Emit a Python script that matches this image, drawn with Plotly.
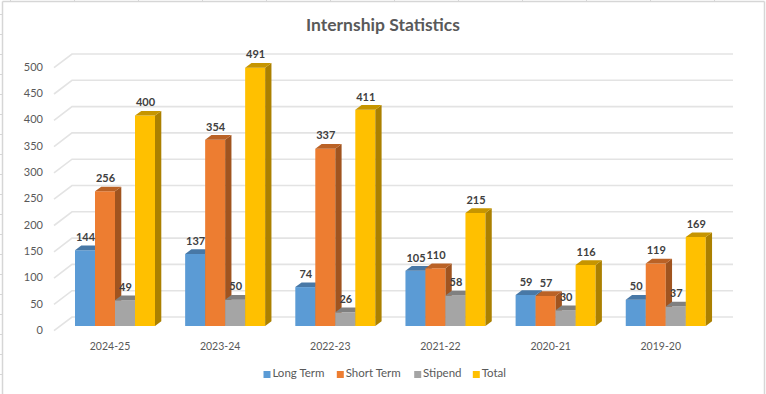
import plotly.graph_objects as go

# ---- data ----
categories = ["2024-25", "2023-24", "2022-23", "2021-22", "2020-21", "2019-20"]
long_term = [144, 137, 74, 105, 59, 50]
short_term = [256, 354, 337, 110, 57, 119]
stipend = [49, 50, 26, 58, 30, 37]
total = [400, 491, 411, 215, 116, 169]
y_ticks = [0, 50, 100, 150, 200, 250, 300, 350, 400, 450, 500]

series_names = ["Long Term", "Short Term", "Stipend", "Total"]
series_values = [long_term, short_term, stipend, total]
front_colors = ["#5B9BD5", "#ED7D31", "#A5A5A5", "#FFC000"]
top_colors = ["#4878A6", "#BA6226", "#808080", "#C69500"]
side_colors = ["#3F6B92", "#A0541F", "#737373", "#AB8000"]

# ---- geometry ----
W, H = 766, 394
ML, MR, MT, MB = 50, 26, 20, 0
AXIS_PX = 332           # px of the category axis baseline
PX_X = 110.15           # px per category
X0_PX = 115             # px of first group's centre
PX_Y = 0.526            # px per value unit
Y0_PX = 326             # px of value 0 at bar front


def ux(px):
    return px / PX_X


def uy(px):
    return px / PX_Y


x_range = [ux(ML - X0_PX), ux(W - MR - X0_PX)]
y_range = [uy(Y0_PX - (H - MB)), uy(Y0_PX - MT)]
bar_w = ux(20)
dx, dy = ux(6.3), uy(4.7)
offsets = [ux(-30), ux(-10), ux(10), ux(30)]

fig = go.Figure()

# gridlines: back wall plus the slanted left-wall segment
gx, gy = [], []
back_l, back_r, front_l = ux(72 - X0_PX), ux(733 - X0_PX), ux(54 - X0_PX)
back_up, front_down = uy(9), uy(4.7)
for t in y_ticks:
    gx += [front_l, back_l, back_r, None]
    gy += [t - front_down, t + back_up, t + back_up, None]
fig.add_trace(go.Scatter(x=gx, y=gy, mode="lines", line=dict(color="#E3E3E3", width=1.6),
                         hoverinfo="skip", showlegend=False))

# legend drawn Excel style (tight swatch + label)
legend_px = [267, 340.3, 417.7, 476.3]
legend_y = uy(Y0_PX - 374.5)
for name, color, lx in zip(series_names, front_colors, legend_px):
    fig.add_trace(go.Scatter(x=[ux(lx - X0_PX)], y=[legend_y], mode="markers+text", text=[name],
                             textposition="middle right", showlegend=False,
                             marker=dict(symbol="square", size=7, color=color),
                             textfont=dict(size=11.5, color="#595959")))

# each series on its own overlaid axis so that painter's order is left to right
for k, (name, vals) in enumerate(zip(series_names, series_values)):
    ya = f"y{k + 2}"
    xs = [i + offsets[k] for i in range(len(vals))]
    fig.add_trace(go.Bar(x=xs, y=vals, width=bar_w, name=name, yaxis=ya, showlegend=False,
                         marker=dict(color=front_colors[k], line=dict(width=0))))
    sx, sy, tx, ty = [], [], [], []
    for c, v in zip(xs, vals):
        l, r = c - bar_w / 2, c + bar_w / 2
        sx += [r, r + dx, r + dx, r, r, None]
        sy += [0, dy, v + dy, v, 0, None]
        tx += [l, r, r + dx, l + dx, l, None]
        ty += [v, v, v + dy, v + dy, v, None]
    fig.add_trace(go.Scatter(x=sx, y=sy, mode="lines", fill="toself", fillcolor=side_colors[k],
                             line=dict(width=0), yaxis=ya, hoverinfo="skip", showlegend=False))
    fig.add_trace(go.Scatter(x=tx, y=ty, mode="lines", fill="toself", fillcolor=top_colors[k],
                             line=dict(width=0), yaxis=ya, hoverinfo="skip", showlegend=False))

# data labels above everything
for k, vals in enumerate(series_values):
    fig.add_trace(go.Scatter(x=[i + offsets[k] + ux(0.5) for i in range(len(vals))],
                             y=[v + uy(12) for v in vals], mode="text",
                             text=[str(v) for v in vals], textposition="middle center",
                             textfont=dict(size=11, color="#404040", family="Lato", weight="bold"),
                             yaxis="y5", hoverinfo="skip", showlegend=False, cliponaxis=False))

shapes = []
def xp(px): return (px - ML) / (W - ML - MR)
def yp(px): return (H - MB - px) / (H - MT - MB)
border = dict(color="#D6D6D6", width=1.5)
shapes.append(dict(type="line", xref="paper", yref="paper", x0=xp(2.5), x1=xp(764.5), y0=yp(1.5), y1=yp(1.5), line=border))
shapes.append(dict(type="line", xref="paper", yref="paper", x0=xp(2.5), x1=xp(2.5), y0=yp(1.5), y1=yp(394), line=border))
shapes.append(dict(type="line", xref="paper", yref="paper", x0=xp(764.5), x1=xp(764.5), y0=yp(1.5), y1=yp(394), line=border))
for px in range(10, 760, 64):
    shapes.append(dict(type="line", xref="paper", yref="paper", x0=xp(px + 0.5), x1=xp(px + 0.5), y0=yp(0), y1=yp(1),
                       line=dict(color="#D6D6D6", width=1)))
for py in range(14, 394, 20):
    shapes.append(dict(type="line", xref="paper", yref="paper", x0=xp(0), x1=xp(2), y0=yp(py + 0.5), y1=yp(py + 0.5),
                       line=dict(color="#D6D6D6", width=1)))

layout = dict(
    width=W, height=H, margin=dict(l=ML, r=MR, t=MT, b=MB, pad=0, autoexpand=False),
    paper_bgcolor="white", plot_bgcolor="rgba(0,0,0,0)",
    font=dict(family="Lato", size=11, color="#595959"),
    showlegend=False, shapes=shapes,
    title=dict(text="<b>Internship Statistics</b>", x=383 / W, xanchor="center", y=1 - 24.5 / H, yanchor="middle",
               font=dict(family="Lato", size=17.5, color="#595959")),
    xaxis=dict(range=x_range, tickvals=[i + ux(-5) for i in range(len(categories))], ticktext=categories,
               showgrid=False, zeroline=False, showline=False, ticks="", ticklabelstandoff=6,
               anchor="free", position=yp(AXIS_PX), tickfont=dict(size=10.5), fixedrange=True),
    yaxis=dict(range=y_range, tickvals=y_ticks, showgrid=False, zeroline=False, showline=False, ticks="",
               ticklabelshift=4, ticklabelstandoff=6, fixedrange=True),
)
for k in range(4):
    layout[f"yaxis{k + 2}"] = dict(range=y_range, overlaying="y", visible=False, fixedrange=True)
fig.update_layout(**layout)

fig.write_html("out.html", config=dict(displayModeBar=False),
               post_script="document.body.style.margin='0';document.documentElement.style.overflow='hidden';")
